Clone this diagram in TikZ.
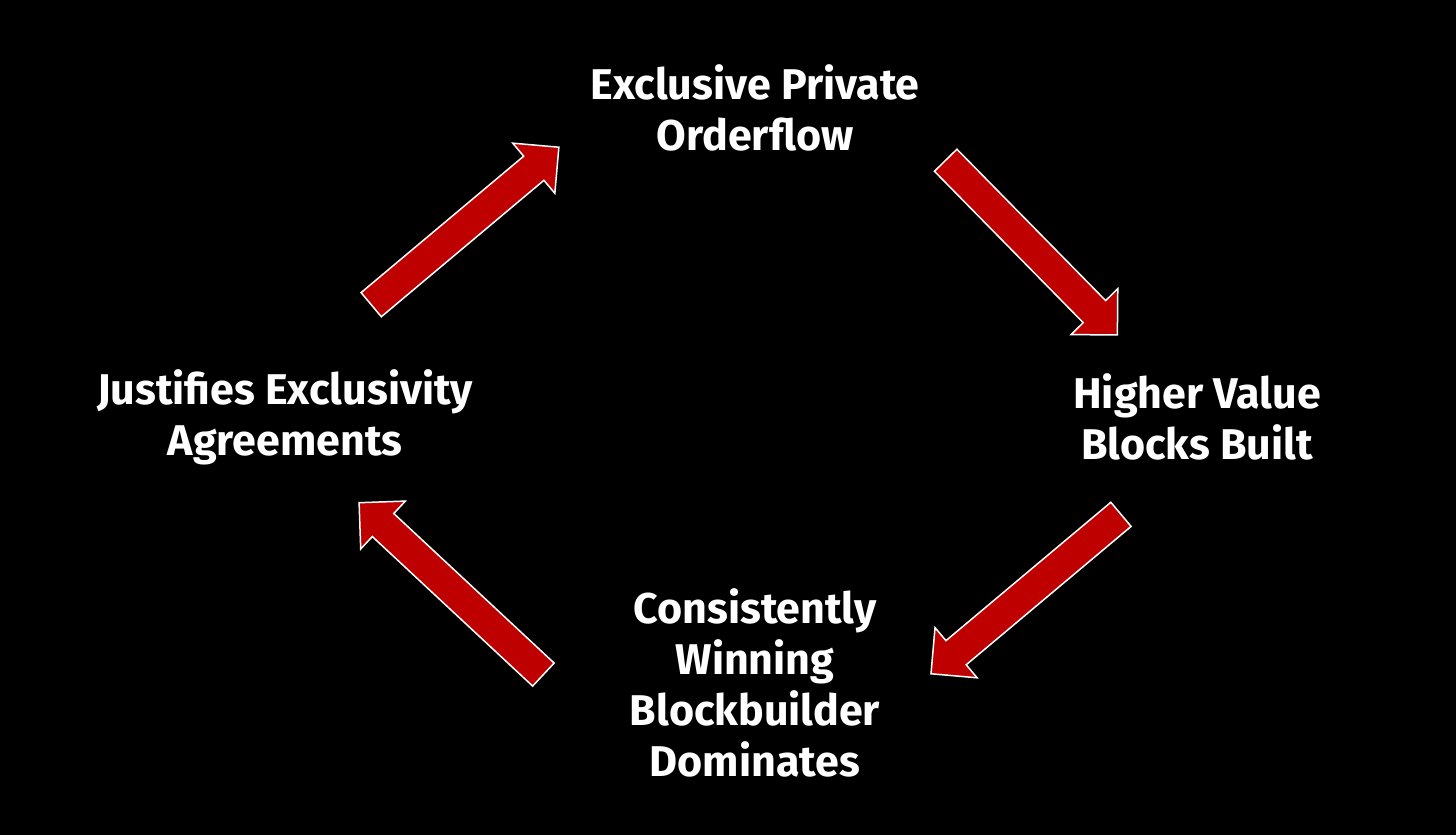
\documentclass[tikz,border=0pt]{standalone}
\usepackage{fontspec}
\setmainfont{Fira Sans}
\usetikzlibrary{shapes.arrows}
\begin{document}
\begin{tikzpicture}[x=1pt,y=-1pt,
  lab/.style={text=white,font=\bfseries\fontsize{43}{51}\selectfont,align=center},
  arr/.style={single arrow,draw=white,line width=1.5pt,fill=red!75!black,single arrow head extend=17pt,single arrow head indent=0pt,inner xsep=0pt,inner ysep=15pt,minimum height=#1,anchor=center}]
\fill[black] (0,0) rectangle (1456,835);
\useasboundingbox (0,0) rectangle (1456,835);
\node[lab] (top) at (755,108) {Exclusive Private\\Orderflow};
\node[lab] (right) at (1197,417) {Higher Value\\Blocks Built};
\node[lab] (left) at (285,417) {Justifies Exclusivity\\Agreements};
\node[lab] (bottom) at (755,683) {Consistently\\Winning\\Blockbuilder\\Dominates};
\node[arr=245pt,rotate=40] (a1) at (459,231) {};
\node[arr=245pt,rotate=-45.5] (a2) at (1026,242) {};
\node[arr=248pt,rotate=-140] (a3) at (1032,589) {};
\node[arr=252pt,rotate=137] (a4) at (457,594) {};
\end{tikzpicture}
\end{document}
